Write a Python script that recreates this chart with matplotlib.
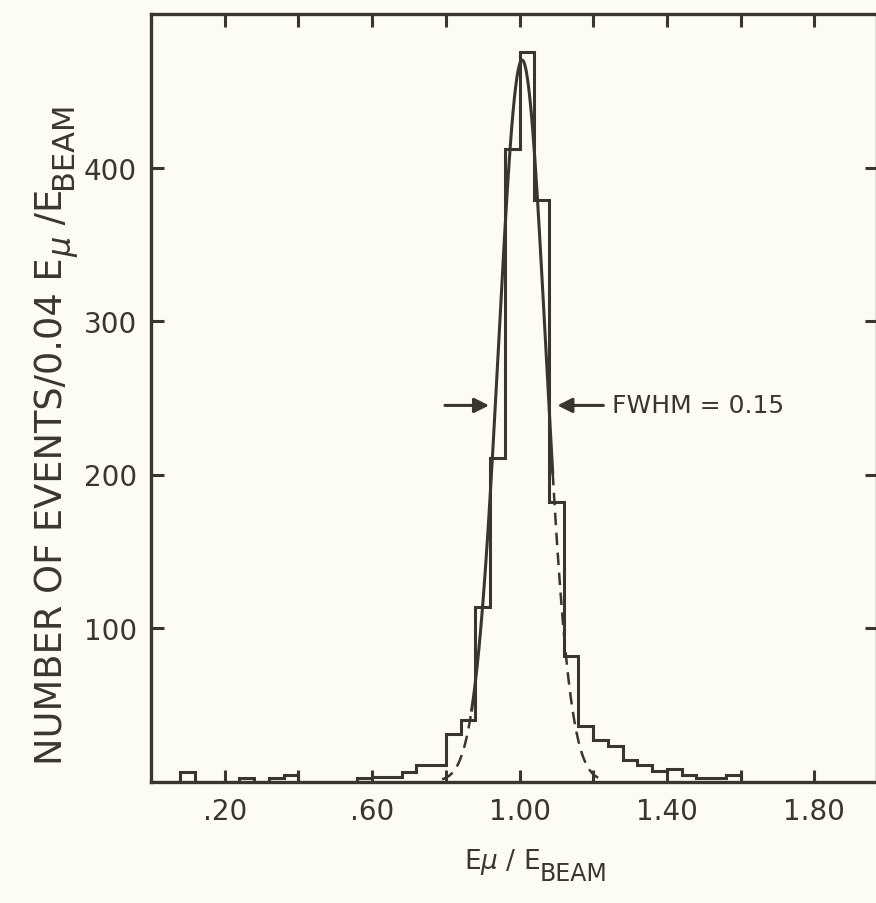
import numpy as np
import matplotlib
matplotlib.use("Agg")
import matplotlib.pyplot as plt

# histogram: counts per 0.04 bin, bins starting at 0.00
bin_width = 0.04
counts = [0, 0, 6, 0, 0, 0, 2, 0, 2, 4,
          0, 0, 0, 0, 2, 3, 3, 6, 11, 11,
          31, 40, 114, 211, 412, 475, 379, 182, 82, 36,
          27, 23, 14, 11, 7, 8, 4, 2, 2, 4,
          0]

# gaussian fit
fit_peak = 470
fit_center = 1.007
fit_fwhm = 0.15
solid_range = (0.87, 1.09)
dash_range = (0.79, 1.225)

x_ticks = [0.2, 0.4, 0.6, 0.8, 1.0, 1.2, 1.4, 1.6, 1.8]
x_labels = ['.20', '', '.60', '', '1.00', '', '1.40', '', '1.80']
y_ticks = [100, 200, 300, 400]
y_labels = ['100', '200', '300', '400']

ink = '#3a3531'
paper = '#fdfcf3'

plt.rcParams['font.family'] = ['DejaVu Sans']
plt.rcParams['mathtext.fontset'] = 'dejavusans'

fig = plt.figure(figsize=(8.76, 9.04), dpi=100, facecolor=paper)
ax = fig.add_axes([151 / 876, 1 - 782.5 / 904, (877 - 151) / 876, (782.5 - 15) / 904])
ax.set_facecolor(paper)

edges = np.arange(len(counts) + 1) * bin_width
ax.stairs(counts, edges, color=ink, lw=2.2, baseline=0)

# fitted curve, solid in the core and dashed in the tails
sigma = fit_fwhm / (2 * np.sqrt(2 * np.log(2)))
def gauss(x):
    return fit_peak * np.exp(-0.5 * ((x - fit_center) / sigma) ** 2)

xs = np.linspace(solid_range[0], solid_range[1], 300)
ax.plot(xs, gauss(xs), color=ink, lw=2.2)
xl = np.linspace(dash_range[0], solid_range[0], 100)
ax.plot(xl, gauss(xl), color=ink, lw=1.8, ls=(0, (5, 3)))
xr = np.linspace(solid_range[1], dash_range[1], 100)
ax.plot(xr, gauss(xr), color=ink, lw=1.8, ls=(0, (5, 3)))

# FWHM arrows
half = 245
ax.annotate('', xy=(0.925, half), xytext=(0.79, half),
            arrowprops=dict(arrowstyle='-|>', color=ink, lw=2.2, mutation_scale=22))
ax.annotate('', xy=(1.095, half), xytext=(1.235, half),
            arrowprops=dict(arrowstyle='-|>', color=ink, lw=2.2, mutation_scale=22))
ax.text(1.252, half, 'FWHM = 0.15', color=ink, fontsize=18, va='center', ha='left')

ax.set_xlim(0, 1.97)
ax.set_ylim(0, 500)
ax.set_xticks(x_ticks)
ax.set_xticklabels(x_labels)
ax.set_yticks(y_ticks)
ax.set_yticklabels(y_labels)
ax.tick_params(direction='in', length=9, width=2.2, color=ink, labelcolor=ink,
               labelsize=20, top=True, right=True)
ax.tick_params(axis='x', pad=11)
ax.tick_params(axis='y', pad=10)
for s in ax.spines.values():
    s.set_color(ink)
    s.set_linewidth(2.4)

# axis titles built from pieces so the subscripts stay large
renderer = fig.canvas.get_renderer()

def place_pieces(pieces, x0, y0, vertical):
    pos = y0 if vertical else x0
    for text, size, shift in pieces:
        if vertical:
            t = fig.text((x0 + shift) / 876, 1 - pos / 904, text, rotation=90,
                         rotation_mode='anchor', ha='left', va='baseline',
                         fontsize=size, color=ink)
            pos -= t.get_window_extent(renderer).height
        else:
            t = fig.text(pos / 876, 1 - (y0 + shift) / 904, text,
                         ha='left', va='baseline', fontsize=size, color=ink)
            pos += t.get_window_extent(renderer).width

ylabel_pieces = [('NUMBER OF EVENTS/0.04 E', 26.5, 0), (r'$\mu$', 23, 9),
                 (' /E', 26.5, 0), ('BEAM', 22, 10)]
place_pieces(ylabel_pieces, 62, 765, True)

xlabel_pieces = [(r'E$\mu$ / E', 19, 0), ('BEAM', 17, 12)]
place_pieces(xlabel_pieces, 464, 869, False)

fig.savefig('out.png', dpi=100, facecolor=paper)
